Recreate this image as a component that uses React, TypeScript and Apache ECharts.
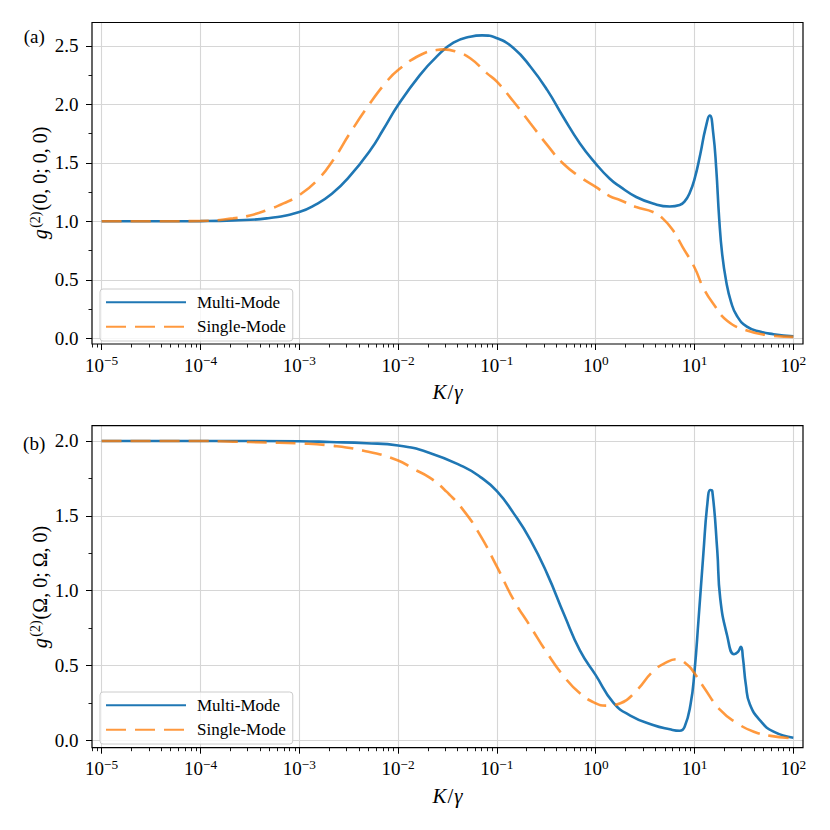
import React, { useEffect, useRef } from "react";
import * as echarts from "echarts";

// ---- data (x given as log10(K/gamma)) ----
const xTickValues = [1e-5, 1e-4, 1e-3, 1e-2, 1e-1, 1, 10, 100];
const yTicksA = [0, 0.5, 1.0, 1.5, 2.0, 2.5];
const yTicksB = [0, 0.5, 1.0, 1.5, 2.0];

const aMultiLogK = [-5.0, -4.5, -4.0, -3.67, -3.33, -3.0, -2.83, -2.67, -2.5, -2.28, -2.15, -2.0, -1.78, -1.61, -1.44, -1.27, -1.15, -1.0, -0.83, -0.66, -0.49, -0.33, -0.16, 0.0, 0.14, 0.25, 0.41, 0.58, 0.75, 0.85, 0.9, 0.95, 1.0, 1.06, 1.11, 1.155, 1.19, 1.22, 1.25, 1.28, 1.32, 1.37, 1.43, 1.53, 1.67, 1.8, 2.0];
const aMultiG = [1.0, 1.0, 1.002, 1.008, 1.025, 1.08, 1.145, 1.235, 1.375, 1.61, 1.785, 1.994, 2.25, 2.408, 2.528, 2.579, 2.59, 2.566, 2.48, 2.322, 2.122, 1.894, 1.666, 1.494, 1.366, 1.294, 1.208, 1.152, 1.127, 1.14, 1.17, 1.24, 1.36, 1.58, 1.79, 1.905, 1.75, 1.45, 1.02, 0.72, 0.49, 0.31, 0.19, 0.1, 0.055, 0.035, 0.016];

const aSingleLogK = [-5.0, -4.5, -4.0, -3.67, -3.5, -3.33, -3.16, -3.0, -2.82, -2.66, -2.49, -2.3, -2.12, -2.0, -1.78, -1.61, -1.54, -1.41, -1.27, -1.1, -1.0, -0.83, -0.66, -0.49, -0.33, -0.16, 0.0, 0.14, 0.25, 0.41, 0.58, 0.68, 0.78, 0.88, 1.0, 1.09, 1.19, 1.33, 1.53, 1.77, 2.0];
const aSingleG = [1.0, 1.0, 1.003, 1.025, 1.05, 1.095, 1.153, 1.224, 1.35, 1.52, 1.75, 1.99, 2.19, 2.294, 2.42, 2.465, 2.47, 2.45, 2.394, 2.265, 2.194, 2.022, 1.837, 1.651, 1.494, 1.38, 1.294, 1.215, 1.18, 1.122, 1.08, 1.023, 0.925, 0.78, 0.605, 0.43, 0.295, 0.15, 0.067, 0.024, 0.012];

const bMultiLogK = [-5.0, -4.0, -3.0, -2.69, -2.32, -2.0, -1.68, -1.34, -1.17, -1.0, -0.83, -0.66, -0.49, -0.32, -0.16, 0.0, 0.18, 0.35, 0.58, 0.75, 0.85, 0.9, 0.96, 1.0, 1.04, 1.09, 1.13, 1.16, 1.18, 1.23, 1.26, 1.33, 1.4, 1.44, 1.47, 1.49, 1.52, 1.56, 1.67, 1.8, 2.0];
const bMultiG = [2.0, 2.0, 1.998, 1.993, 1.985, 1.97, 1.92, 1.828, 1.76, 1.665, 1.516, 1.338, 1.11, 0.84, 0.6, 0.435, 0.25, 0.165, 0.102, 0.073, 0.063, 0.09, 0.24, 0.46, 0.8, 1.25, 1.58, 1.672, 1.665, 1.27, 0.95, 0.7, 0.575, 0.59, 0.625, 0.55, 0.37, 0.24, 0.127, 0.057, 0.017];

const bSingleLogK = [-5.0, -4.0, -3.67, -3.33, -3.0, -2.69, -2.35, -2.0, -1.85, -1.68, -1.51, -1.34, -1.17, -1.0, -0.83, -0.66, -0.49, -0.32, -0.16, 0.0, 0.1, 0.25, 0.41, 0.58, 0.72, 0.82, 0.93, 1.0, 1.09, 1.26, 1.43, 1.6, 1.77, 2.0];
const bSingleG = [2.0, 2.0, 1.995, 1.99, 1.984, 1.97, 1.935, 1.87, 1.815, 1.755, 1.661, 1.538, 1.371, 1.16, 0.937, 0.759, 0.581, 0.425, 0.314, 0.247, 0.231, 0.247, 0.33, 0.46, 0.522, 0.541, 0.503, 0.447, 0.358, 0.202, 0.114, 0.057, 0.029, 0.013];

const seriesNames = ["Multi-Mode", "Single-Mode"];

// ---- layout / style ----
const FONT = "'Liberation Serif', 'DejaVu Serif', serif";
const BLUE = "#1f77b4";
const ORANGE = "#ff7f0e";
const GRID_COLOR = "#d6d6d6";
const X_MIN = Math.pow(10, -5.098);
const X_MAX = Math.pow(10, 2.098);
const G1 = { left: 92, top: 22.5, width: 711, height: 321.5 };
const G2 = { left: 92, top: 425.7, width: 711, height: 322 };

const toPairs = (logK: number[], g: number[]) => logK.map((e, i) => [Math.pow(10, e), g[i]]);

const xLabelFormatter = (v: number) => {
  const e = Math.log10(v);
  const r = Math.round(e);
  if (Math.abs(e - r) > 1e-6) return "";
  return `{b|10}{s|${r < 0 ? "\u2212" : ""}${Math.abs(r)}}`;
};

function makeXAxis(gridIndex: number) {
  return {
    type: "log",
    logBase: 10,
    gridIndex,
    min: X_MIN,
    max: X_MAX,
    axisLine: { show: false, onZero: false },
    axisTick: {
      show: true,
      inside: false,
      length: 6,
      customValues: xTickValues,
      lineStyle: { color: "#000", width: 1 },
    },
    minorTick: { show: true, splitNumber: 9, length: 3.5, lineStyle: { color: "#000", width: 0.9 } },
    axisLabel: {
      show: true,
      customValues: xTickValues,
      formatter: xLabelFormatter,
      margin: 10,
      color: "#000",
      rich: {
        b: { fontSize: 19, fontFamily: FONT, lineHeight: 22, color: "#000" },
        s: { fontSize: 13.3, fontFamily: FONT, lineHeight: 12, verticalAlign: "top", color: "#000" },
      },
    },
    splitLine: { show: true, lineStyle: { color: GRID_COLOR, width: 1.1 } },
    minorSplitLine: { show: false },
    name: "{i|K}{n|/}{i|\u03b3}",
    nameLocation: "middle",
    nameGap: 36,
    nameTextStyle: {
      rich: {
        i: { fontSize: 21, fontStyle: "italic", fontFamily: FONT, lineHeight: 24, color: "#000" },
        n: { fontSize: 21, fontFamily: FONT, lineHeight: 24, color: "#000", padding: [0, 1, 0, 1] },
      },
    },
  };
}

function makeYAxis(gridIndex: number, min: number, max: number, ticks: number[]) {
  return {
    type: "value",
    gridIndex,
    min,
    max,
    axisLine: { show: false, onZero: false },
    axisTick: {
      show: true,
      inside: false,
      length: 6,
      customValues: ticks,
      lineStyle: { color: "#000", width: 1 },
    },
    minorTick: { show: true, splitNumber: 2, length: 3.5, lineStyle: { color: "#000", width: 0.9 } },
    axisLabel: {
      show: true,
      customValues: ticks,
      formatter: (v: number) => v.toFixed(1),
      margin: 13.5,
      color: "#000",
      fontSize: 19,
      fontFamily: FONT,
    },
    splitLine: { show: true, lineStyle: { color: GRID_COLOR, width: 1.1 } },
    minorSplitLine: { show: false },
  };
}

function makeSeries(name: string, idx: number, data: number[][], dashed: boolean) {
  return {
    name,
    type: "line",
    xAxisIndex: idx,
    yAxisIndex: idx,
    data,
    symbol: "none",
    showSymbol: false,
    smooth: 0.5,
    clip: true,
    silent: true,
    lineStyle: dashed
      ? { color: ORANGE, width: 2.6, type: [20, 9], opacity: 0.8, cap: "butt" }
      : { color: BLUE, width: 2.6 },
    itemStyle: { color: dashed ? ORANGE : BLUE, opacity: dashed ? 0.8 : 1 },
    emphasis: { disabled: true },
    z: dashed ? 3 : 2,
  };
}

function makeLegend(top: number) {
  return {
    data: seriesNames,
    orient: "vertical",
    left: 100,
    top,
    itemWidth: 80,
    itemHeight: 14,
    itemGap: 7.6,
    padding: [4.7, 7, 5.7, 5],
    backgroundColor: "rgba(255,255,255,0.8)",
    borderColor: "#cccccc",
    borderWidth: 1,
    borderRadius: 3,
    selectedMode: false,
    itemStyle: { color: "rgba(0,0,0,0)", borderWidth: 0, opacity: 0 },
    textStyle: { fontSize: 17, fontFamily: FONT, color: "#000", padding: [0, 0, 0, 6] },
  };
}

function yLabelRich() {
  return {
    i: { fontSize: 20, fontStyle: "italic", fontFamily: FONT, lineHeight: 24, fill: "#000" },
    s: { fontSize: 14, fontFamily: FONT, lineHeight: 12, verticalAlign: "top", fill: "#000", padding: [0, 1, 0, 1.5] },
    n: { fontSize: 20, fontFamily: FONT, lineHeight: 24, fill: "#000" },
  };
}

export default function App() {
  const ref = useRef<HTMLDivElement>(null);

  useEffect(() => {
    if (!ref.current) return;
    const chart = echarts.init(ref.current, null, { renderer: "svg" });
    const option: any = {
      animation: false,
      backgroundColor: "#ffffff",
      textStyle: { fontFamily: FONT },
      grid: [
        { ...G1, containLabel: false, outerBoundsMode: "none" },
        { ...G2, containLabel: false, outerBoundsMode: "none" },
      ],
      xAxis: [makeXAxis(0), makeXAxis(1)],
      yAxis: [makeYAxis(0, -0.049, 2.7, yTicksA), makeYAxis(1, -0.05, 2.102, yTicksB)],
      legend: [makeLegend(289), makeLegend(692)],
      series: [
        makeSeries(seriesNames[0], 0, toPairs(aMultiLogK, aMultiG), false),
        makeSeries(seriesNames[1], 0, toPairs(aSingleLogK, aSingleG), true),
        makeSeries(seriesNames[0], 1, toPairs(bMultiLogK, bMultiG), false),
        makeSeries(seriesNames[1], 1, toPairs(bSingleLogK, bSingleG), true),
      ],
      graphic: [
        {
          type: "rect",
          silent: true,
          z: 100,
          shape: { x: G1.left, y: G1.top, width: G1.width, height: G1.height },
          style: { fill: "none", stroke: "#000", lineWidth: 1.2 },
        },
        {
          type: "rect",
          silent: true,
          z: 100,
          shape: { x: G2.left, y: G2.top, width: G2.width, height: G2.height },
          style: { fill: "none", stroke: "#000", lineWidth: 1.2 },
        },
        {
          type: "text",
          x: 34.2,
          y: 36,
          style: { text: "(a)", fontSize: 19, fontFamily: FONT, fill: "#000", align: "center", verticalAlign: "middle" },
        },
        {
          type: "text",
          x: 34.2,
          y: 443.8,
          style: { text: "(b)", fontSize: 19, fontFamily: FONT, fill: "#000", align: "center", verticalAlign: "middle" },
        },
        {
          type: "text",
          x: 40,
          y: 183,
          rotation: Math.PI / 2,
          style: {
            text: "{i|g}{s|(2)}{n|(0, 0; 0, 0)}",
            rich: yLabelRich(),
            fontSize: 20,
            fontFamily: FONT,
            fill: "#000",
            align: "center",
            verticalAlign: "middle",
          },
        },
        {
          type: "text",
          x: 40,
          y: 587,
          rotation: Math.PI / 2,
          style: {
            text: "{i|g}{s|(2)}{n|(\u03a9, 0; \u03a9, 0)}",
            rich: yLabelRich(),
            fontSize: 20,
            fontFamily: FONT,
            fill: "#000",
            align: "center",
            verticalAlign: "middle",
          },
        },
      ],
    };
    chart.setOption(option);
    return () => chart.dispose();
  }, []);

  return (
    <div
      ref={ref}
      style={{ position: "absolute", left: 0, top: 0, width: 830, height: 830, background: "#fff" }}
    />
  );
}
